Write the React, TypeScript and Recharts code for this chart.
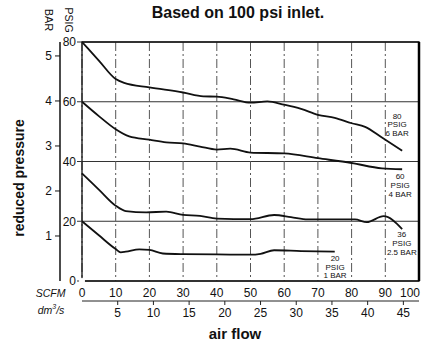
import {
  LineChart,
  Line,
  XAxis,
  YAxis,
  CartesianGrid,
  ReferenceArea,
  ReferenceLine,
  ReferenceDot,
} from "recharts"

const FONT = "'Liberation Sans', Arial, Helvetica, sans-serif"
const NARROW = "'Liberation Sans Narrow', 'Arial Narrow', 'Liberation Sans', Arial, sans-serif"

// air flow (SCFM) vs reduced pressure (PSIG)
const flow80 = [0, 5, 10, 12.5, 20, 30, 36, 40, 45, 50, 55, 60, 65, 70, 75, 80, 84, 89, 95]
const psig80 = [80, 73.8, 67.6, 66.3, 64.8, 63.1, 61.8, 61.7, 60.8, 59.7, 60.1, 59, 57.6, 55.6, 54.6, 52.8, 51.6, 48, 43.6]

const flow60 = [0, 5, 10, 14, 20, 25, 30, 35, 40, 44, 50, 60, 70, 80, 89, 95]
const psig60 = [60, 55.2, 50.8, 48.4, 47.3, 46.4, 46.1, 45, 44, 44.3, 43, 42.7, 41.1, 39.5, 37.7, 37.4]

const flow36 = [0, 5, 10, 13, 19, 25, 30, 35, 40, 50, 57, 62, 67, 81, 84.5, 89.5, 95]
const psig36 = [36, 30.6, 25.2, 23.4, 23, 23.2, 22.1, 21.8, 20.9, 20.7, 22.1, 21.4, 20.6, 20.6, 19.7, 21.7, 17.4]

const flow20 = [0, 5, 10, 11.5, 13, 17, 20, 24, 30, 40, 50, 53, 57, 65, 75]
const psig20 = [20, 15.3, 10.7, 9.6, 9.8, 10.6, 10.4, 9.2, 9, 8.9, 8.8, 9.1, 10.3, 10, 9.8]

const scfmTicks = [0, 10, 20, 30, 40, 50, 60, 70, 80, 90, 100]
const dm3Ticks = [5, 10, 15, 20, 25, 30, 35, 40, 45]
const psigTicks = [0, 20, 40, 60, 80]
const barTicks = [1, 2, 3, 4, 5]

const curveLabels = [
  { flow: 93.5, psig: 55.2, lines: ["80", "PSIG", "6 BAR"] },
  { flow: 94.4, psig: 34.9, lines: ["60", "PSIG", "4 BAR"] },
  { flow: 94.9, psig: 15.4, lines: ["36", "PSIG", "2.5 BAR"] },
  { flow: 75.1, psig: 7.6, lines: ["20", "PSIG", "1 BAR"] },
]

const toPoints = (flow: number[], psig: number[]) =>
  flow.map((f, i) => ({ f, p: psig[i] }))

const series = [
  { key: "80", data: toPoints(flow80, psig80) },
  { key: "60", data: toPoints(flow60, psig60) },
  { key: "36", data: toPoints(flow36, psig36) },
  { key: "20", data: toPoints(flow20, psig20) },
]

// keeps the secondary (dm3/s, BAR) axes alive, draws nothing
const anchorPoint = [{ f: 0, p: 0 }]

function ScfmTick({ x, y, payload }: any) {
  const last = payload.value === 100
  return (
    <text
      x={last ? x + 1 : x}
      y={y}
      dy="0.71em"
      textAnchor={last ? "end" : "middle"}
      fontSize={12}
      fill="#111"
      fontFamily={FONT}
    >
      {payload.value}
    </text>
  )
}

function CurveLabel({ cx, cy, lines }: any) {
  return (
    <g>
      {lines.map((t: string, i: number) => (
        <text
          key={t}
          x={cx}
          y={cy + i * 8.8}
          textAnchor="middle"
          dominantBaseline="central"
          fontSize={8}
          fill="#111"
          fontFamily={NARROW}
        >
          {t}
        </text>
      ))}
    </g>
  )
}

const tickStyle = { fontSize: 12, fill: "#111", fontFamily: FONT }

function Txt({ x, y, rot = 0, style, children }: any) {
  return (
    <div
      style={{
        position: "absolute",
        left: x,
        top: y,
        transform: `translate(-50%, -50%) rotate(${rot}deg)`,
        whiteSpace: "nowrap",
        fontFamily: FONT,
        color: "#111",
        lineHeight: 1,
        ...style,
      }}
    >
      {children}
    </div>
  )
}

export default function App() {
  return (
    <div style={{ position: "absolute", left: 0, top: 0, width: 430, height: 343, background: "#fff" }}>
      <LineChart
        width={430}
        height={343}
        margin={{ top: 42, right: 11, left: 30, bottom: 20 }}
      >
        <XAxis
          xAxisId="xb"
          type="number"
          dataKey="f"
          domain={[0, 47.19]}
          ticks={dm3Ticks}
          interval={0}
          axisLine={{ stroke: "#222" }}
          tickLine={{ stroke: "#222" }}
          tickSize={4}
          tickMargin={3}
          height={22}
          tick={tickStyle}
        />
        <XAxis
          xAxisId="xa"
          type="number"
          dataKey="f"
          domain={[0, 100]}
          ticks={scfmTicks}
          interval={0}
          axisLine={false}
          tickLine={false}
          tickSize={0}
          tickMargin={7}
          height={20}
          tick={<ScfmTick />}
        />
        <YAxis
          yAxisId="yb"
          type="number"
          domain={[0, 5.31]}
          ticks={barTicks}
          interval={0}
          width={30}
          axisLine={{ stroke: "#111", strokeWidth: 1.5 }}
          tickLine={{ stroke: "#111" }}
          tickSize={5}
          tickMargin={3}
          tick={tickStyle}
        />
        <YAxis
          yAxisId="ya"
          type="number"
          domain={[0, 80]}
          ticks={psigTicks}
          interval={0}
          width={22}
          axisLine={false}
          tickLine={{ stroke: "#333" }}
          tickSize={5}
          tickMargin={1}
          tick={tickStyle}
        />
        <CartesianGrid
          xAxisId="xa"
          yAxisId="ya"
          vertical={false}
          stroke="#333"
        />
        <CartesianGrid
          xAxisId="xa"
          yAxisId="ya"
          horizontal={false}
          stroke="#555"
          strokeDasharray="9 3 2 3"
        />
        <ReferenceArea
          xAxisId="xa"
          yAxisId="ya"
          x1={0}
          x2={100}
          y1={0}
          y2={80}
          fill="none"
          stroke="#111"
          strokeWidth={1.3}
        />
        <ReferenceLine xAxisId="xa" yAxisId="ya" x={100} stroke="#000" strokeWidth={2.5} />
        <Line
          xAxisId="xb"
          yAxisId="yb"
          data={anchorPoint}
          dataKey="p"
          stroke="none"
          dot={false}
          activeDot={false}
          isAnimationActive={false}
        />
        {series.map((s) => (
          <Line
            key={s.key}
            xAxisId="xa"
            yAxisId="ya"
            data={s.data}
            dataKey="p"
            type="monotone"
            stroke="#111"
            strokeWidth={1.8}
            dot={false}
            isAnimationActive={false}
          />
        ))}
        {curveLabels.map((c) => (
          <ReferenceDot
            key={c.lines[0]}
            xAxisId="xa"
            yAxisId="ya"
            x={c.flow}
            y={c.psig}
            r={0}
            shape={(p: any) => <CurveLabel cx={p.cx} cy={p.cy} lines={c.lines} />}
          />
        ))}
      </LineChart>

      <Txt x={238} y={13} style={{ fontSize: 16, fontWeight: "bold" }}>
        Based on 100 psi inlet.
      </Txt>
      <Txt x={47.5} y={20} rot={90} style={{ fontSize: 11 }}>BAR</Txt>
      <Txt x={68.5} y={20} rot={90} style={{ fontSize: 10.5 }}>PSIG</Txt>
      <Txt x={19} y={178} rot={-90} style={{ fontSize: 14, fontWeight: "bold" }}>
        reduced pressure
      </Txt>
      <Txt x={50.5} y={293} style={{ fontSize: 10.5, fontStyle: "italic" }}>SCFM</Txt>
      <Txt x={51} y={309} style={{ fontSize: 10.5, fontStyle: "italic" }}>
        dm<sup style={{ fontSize: 7 }}>3</sup>/s
      </Txt>
      <Txt x={235} y={333} style={{ fontSize: 15, fontWeight: "bold" }}>air flow</Txt>
    </div>
  )
}
